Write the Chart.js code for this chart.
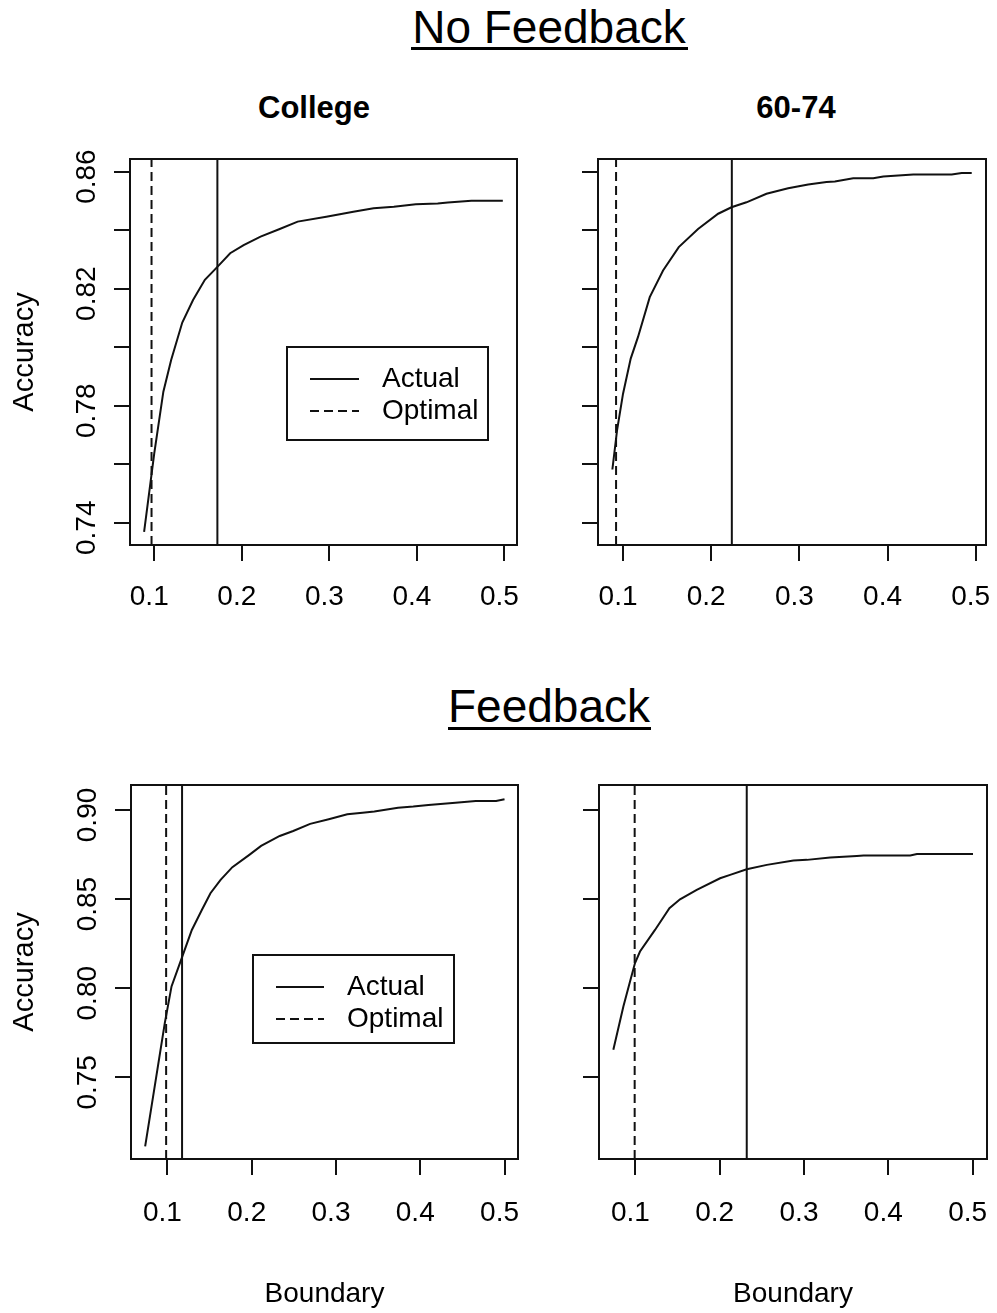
<!DOCTYPE html>
<html><head><meta charset="utf-8">
<script src="https://cdn.jsdelivr.net/npm/chart.js@4.4.0/dist/chart.umd.min.js"></script>
<style>
html,body{margin:0;padding:0;background:#fff;width:997px;height:1313px;overflow:hidden;position:relative;font-family:"Liberation Sans",Arial,sans-serif;}
canvas{position:absolute;}
.h{position:absolute;text-align:center;white-space:nowrap;color:#000;}
.ul{position:absolute;background:#000;height:3px;}
</style></head><body>
<div class="h" style="left:349px;width:400px;top:4px;font-size:46px;line-height:46px;">No Feedback</div>
<div class="ul" style="left:411px;width:277px;top:47px;"></div>
<div class="h" style="left:349px;width:400px;top:683px;font-size:46px;line-height:46px;">Feedback</div>
<div class="ul" style="left:448px;width:203px;top:727px;"></div>
<div class="h" style="left:164px;width:300px;top:92px;font-size:31px;line-height:31px;font-weight:bold;">College</div>
<div class="h" style="left:646px;width:300px;top:92px;font-size:31px;line-height:31px;font-weight:bold;">60-74</div>

<canvas id="c0" width="530" height="600" style="left:0;top:60px;"></canvas>
<canvas id="c1" width="467" height="600" style="left:530px;top:60px;"></canvas>
<canvas id="c2" width="530" height="573" style="left:0;top:740px;"></canvas>
<canvas id="c3" width="467" height="573" style="left:530px;top:740px;"></canvas>

<script>
// ---- data ----
const boundaryNFCollege = [0.0884,0.1,0.1104,0.1193,0.132,0.1443,0.1578,0.1713,0.1867,0.2021,0.2214,0.2426,0.2638,0.2965,0.3274,0.3505,0.3736,0.3987,0.4237,0.4353,0.4622,0.4981];
const accuracyNFCollege = [0.7369,0.7637,0.7848,0.7956,0.8084,0.8161,0.823,0.8272,0.8321,0.8349,0.8378,0.8403,0.8429,0.8446,0.8463,0.8475,0.848,0.8488,0.8491,0.8494,0.85,0.85];

const boundaryNF6074 = [0.0879,0.0932,0.1,0.1087,0.117,0.1303,0.1454,0.1632,0.1851,0.2079,0.223,0.24,0.2627,0.2873,0.31,0.3308,0.3403,0.3611,0.3838,0.3952,0.4292,0.4728,0.4841,0.4955];
const accuracyNF6074 = [0.7582,0.7716,0.7841,0.7961,0.8035,0.8171,0.8262,0.8342,0.8404,0.8456,0.8478,0.8495,0.8524,0.8543,0.8556,0.8564,0.8566,0.8577,0.8577,0.8583,0.859,0.859,0.8595,0.8595];

const boundaryFCollege = [0.0735,0.0968,0.1048,0.1169,0.1289,0.1409,0.151,0.163,0.177,0.1971,0.2111,0.2332,0.2492,0.2693,0.2914,0.3134,0.3315,0.3455,0.3736,0.3917,0.4097,0.4418,0.4659,0.49,0.5];
const accuracyFCollege = [0.7113,0.7804,0.801,0.8169,0.8327,0.844,0.8533,0.8608,0.8679,0.8748,0.8798,0.8854,0.8882,0.8922,0.8948,0.8976,0.8985,0.8991,0.9013,0.9019,0.9028,0.9041,0.905,0.905,0.906];

const boundaryF6074 = [0.0739,0.0858,0.0937,0.0996,0.1055,0.1233,0.1404,0.153,0.1728,0.2005,0.2124,0.2321,0.2559,0.2875,0.3034,0.3311,0.3627,0.3706,0.426,0.4339,0.5004];
const accuracyF6074 = [0.7655,0.7898,0.8038,0.8141,0.8206,0.8327,0.8449,0.8499,0.8552,0.8617,0.8636,0.8667,0.8692,0.8716,0.872,0.8733,0.8742,0.8744,0.8744,0.8753,0.8753];

// vertical reference lines (panel order: NF College, NF 60-74, F College, F 60-74)
const actualBoundaries  = [0.1721, 0.2234, 0.1173, 0.2321];
const optimalBoundaries = [0.0969, 0.0921, 0.0984, 0.0992];

// ticks
const xTickValues = [0.1, 0.2, 0.3, 0.4, 0.5];
const xTickLabels = ['0.1', '0.2', '0.3', '0.4', '0.5'];
const yTickValuesTop = [0.74, 0.76, 0.78, 0.80, 0.82, 0.84, 0.86];
const yTickLabelsTop = ['0.74', '', '0.78', '', '0.82', '', '0.86'];
const yTickValuesBottom = [0.75, 0.80, 0.85, 0.90];
const yTickLabelsBottom = ['0.75', '0.80', '0.85', '0.90'];

// axis limits
const xLimits = [[0.0723, 0.5143], [0.0716, 0.5117], [0.0567, 0.5160], [0.0569, 0.5170]];
const yLimitsTop = [0.7324, 0.8643];
const yLimitsBottom = [0.7042, 0.9140];

const legendLabels = ['Actual', 'Optimal'];

// ---- drawing ----
const FONT = '"Liberation Sans", Arial, sans-serif';
const INK = '#111';
const DASH = [9, 5];
Chart.defaults.font.family = FONT;
Chart.defaults.color = '#000';

const boxPlugin = {
  id: 'box',
  afterDatasetsDraw(chart) {
    const {ctx, chartArea: a} = chart;
    ctx.save();
    ctx.strokeStyle = INK; ctx.lineWidth = 2;
    ctx.strokeRect(Math.round(a.left), Math.round(a.top), Math.round(a.right - a.left), Math.round(a.bottom - a.top));
    ctx.restore();
  }
};

const legendBoxPlugin = {
  id: 'legendBox',
  afterDraw(chart, args, opts) {
    if (!opts || !opts.show) return;
    const {ctx, chartArea: a} = chart;
    const bx = a.left + opts.dx, by = a.top + opts.dy;
    ctx.save();
    ctx.strokeStyle = INK; ctx.lineWidth = 2;
    ctx.fillStyle = '#fff';
    ctx.fillRect(bx, by, opts.w, opts.h);
    ctx.strokeRect(bx, by, opts.w, opts.h);
    ctx.font = '28px ' + FONT;
    ctx.fillStyle = '#000';
    ctx.textBaseline = 'middle';
    ctx.textAlign = 'left';
    opts.rows.forEach((ry, i) => {
      ctx.beginPath();
      ctx.setLineDash(i === 0 ? [] : DASH);
      ctx.moveTo(bx + opts.l0, by + ry);
      ctx.lineTo(bx + opts.l1, by + ry);
      ctx.stroke();
      ctx.setLineDash([]);
      ctx.fillText(legendLabels[i], bx + opts.tx, by + ry);
    });
    ctx.restore();
  }
};

function makePanel(id, p) {
  const pts = p.xs.map((x, i) => ({x: x, y: p.ys[i]}));
  new Chart(document.getElementById(id), {
    type: 'line',
    data: {
      datasets: [
        {data: pts, borderColor: INK, borderWidth: 2, pointRadius: 0, tension: 0, fill: false},
        {data: [{x: p.act, y: p.yl[0]}, {x: p.act, y: p.yl[1]}], borderColor: INK, borderWidth: 2, pointRadius: 0},
        {data: [{x: p.opt, y: p.yl[0]}, {x: p.opt, y: p.yl[1]}], borderColor: INK, borderWidth: 2, borderDash: DASH, pointRadius: 0}
      ]
    },
    options: {
      responsive: false, animation: false, devicePixelRatio: 1,
      layout: {padding: {left: 0, right: p.pr, top: p.pt, bottom: 0}},
      plugins: {
        legend: {display: false}, tooltip: {enabled: false}, title: {display: false},
        legendBox: p.legend || {show: false}
      },
      scales: {
        x: {
          type: 'linear', position: 'bottom', min: p.xl[0], max: p.xl[1],
          afterBuildTicks: s => { s.ticks = xTickValues.map(v => ({value: v})); },
          afterFit: s => { s.height = p.xh; s.paddingLeft = 0; s.paddingRight = 0; },
          grid: {drawOnChartArea: false, drawTicks: true, tickLength: 16, color: INK, lineWidth: 2},
          border: {display: false},
          ticks: {callback: (v, i) => xTickLabels[i], color: '#000', font: {size: 28}, padding: p.xpad, labelOffset: -5, minRotation: 0, maxRotation: 0, autoSkip: false},
          title: {display: p.showX, text: 'Boundary', color: '#000', font: {size: 28}, padding: {top: 0, bottom: 2}}
        },
        y: {
          type: 'linear', position: 'left', min: p.yl[0], max: p.yl[1],
          afterBuildTicks: s => { s.ticks = p.yt.map(v => ({value: v})); },
          afterFit: s => { s.width = p.yw; s.paddingTop = 0; s.paddingBottom = 0; },
          grid: {drawOnChartArea: false, drawTicks: true, tickLength: 16, color: INK, lineWidth: 2},
          border: {display: false},
          ticks: {callback: (v, i) => p.showYLabels ? p.ytl[i] : '', color: '#000', font: {size: 28}, padding: -1, labelOffset: 5, minRotation: 90, maxRotation: 90, crossAlign: 'center', autoSkip: false},
          title: {display: p.showYLabels, text: 'Accuracy', color: '#000', font: {size: 29}, padding: {top: 8, bottom: 0}}
        }
      }
    },
    plugins: [boxPlugin, legendBoxPlugin]
  });
}

makePanel('c0', {xs: boundaryNFCollege, ys: accuracyNFCollege, act: actualBoundaries[0], opt: optimalBoundaries[0],
  xl: xLimits[0], yl: yLimitsTop, yt: yTickValuesTop, ytl: yTickLabelsTop, showYLabels: true, showX: false,
  pr: 13, pt: 99, xh: 115, yw: 130, xpad: 19,
  legend: {show: true, dx: 157, dy: 188, w: 201, h: 93, l0: 23, l1: 72, tx: 95, rows: [32, 64]}});
makePanel('c1', {xs: boundaryNF6074, ys: accuracyNF6074, act: actualBoundaries[1], opt: optimalBoundaries[1],
  xl: xLimits[1], yl: yLimitsTop, yt: yTickValuesTop, ytl: yTickLabelsTop, showYLabels: false, showX: false,
  pr: 11, pt: 99, xh: 115, yw: 68, xpad: 19});
makePanel('c2', {xs: boundaryFCollege, ys: accuracyFCollege, act: actualBoundaries[2], opt: optimalBoundaries[2],
  xl: xLimits[2], yl: yLimitsBottom, yt: yTickValuesBottom, ytl: yTickLabelsBottom, showYLabels: true, showX: true,
  pr: 12, pt: 45, xh: 154, yw: 131, xpad: 21,
  legend: {show: true, dx: 122, dy: 170, w: 201, h: 88, l0: 23, l1: 71, tx: 94, rows: [32, 64]}});
makePanel('c3', {xs: boundaryF6074, ys: accuracyF6074, act: actualBoundaries[3], opt: optimalBoundaries[3],
  xl: xLimits[3], yl: yLimitsBottom, yt: yTickValuesBottom, ytl: yTickLabelsBottom, showYLabels: false, showX: true,
  pr: 10, pt: 45, xh: 154, yw: 69, xpad: 21});
</script>
</body></html>
